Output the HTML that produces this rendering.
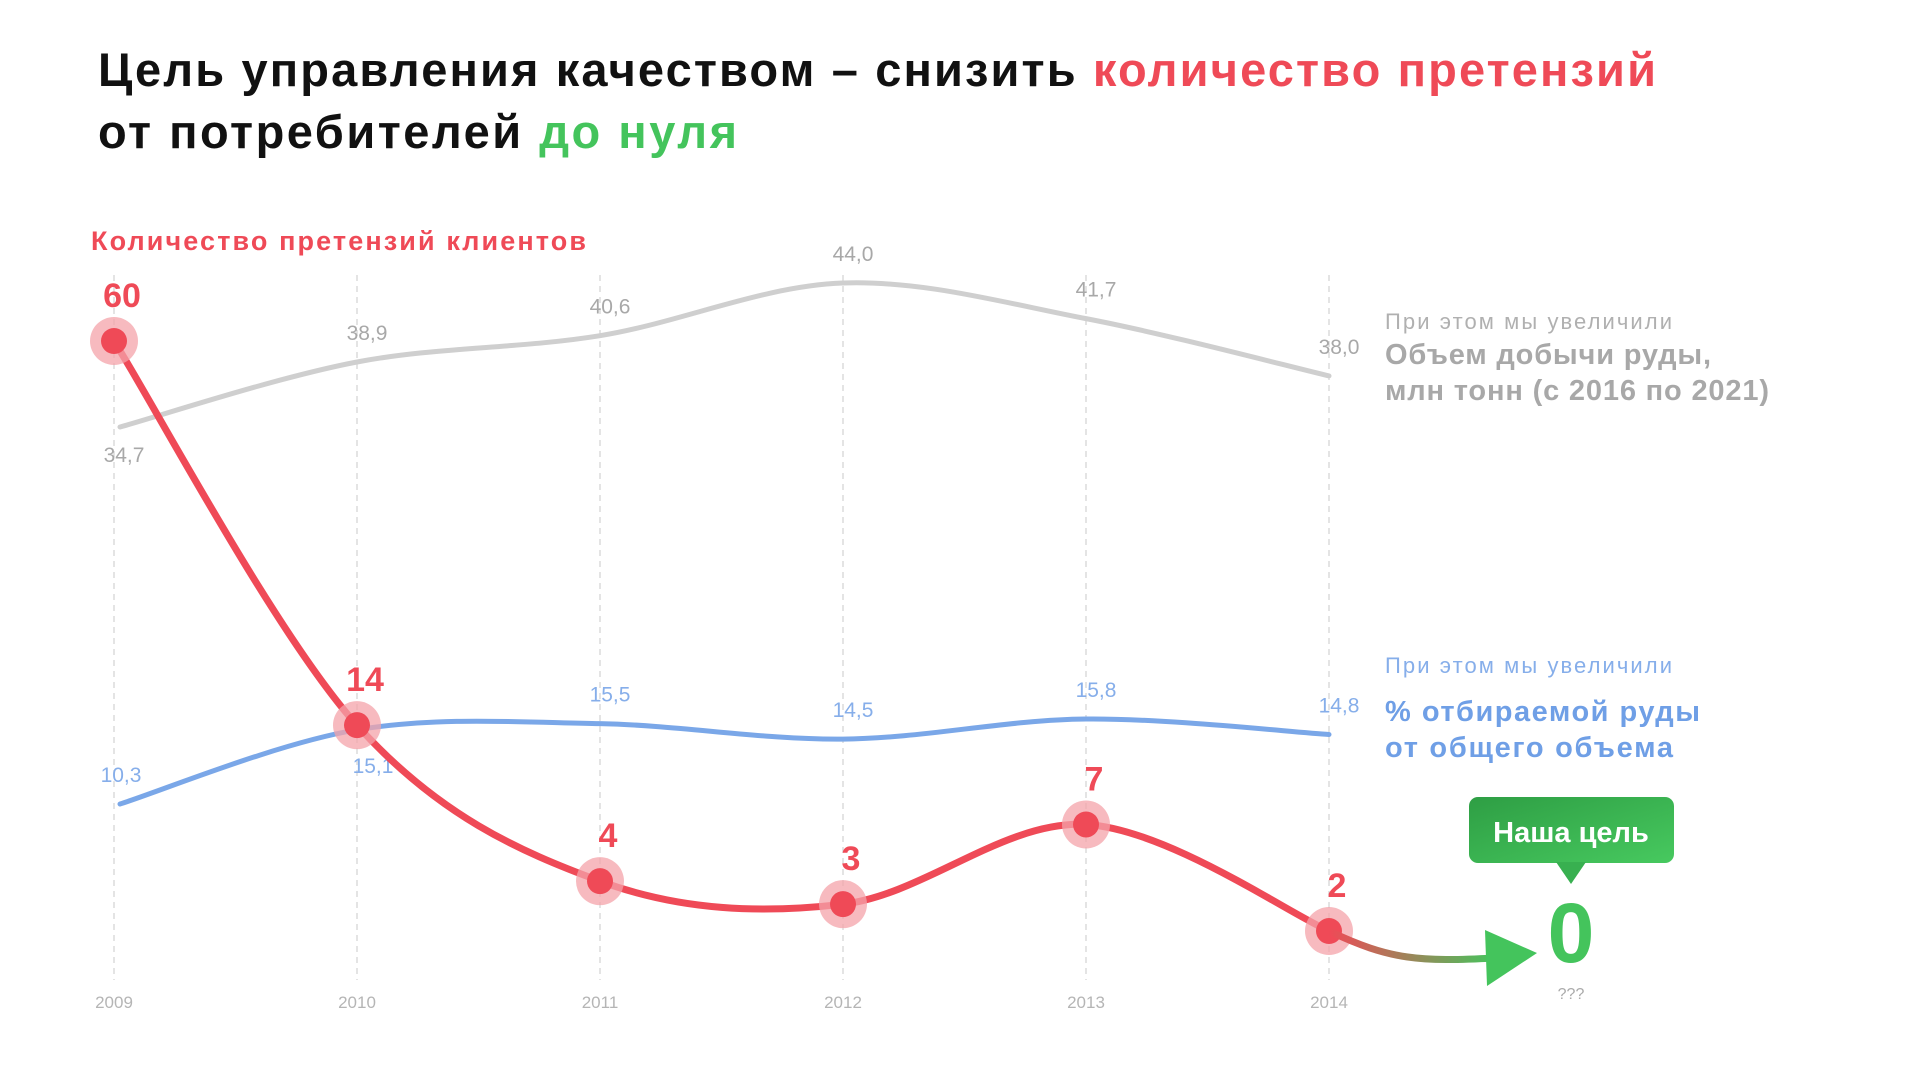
<!DOCTYPE html>
<html><head><meta charset="utf-8">
<style>
html,body{margin:0;padding:0;background:#fff;}
body{width:1920px;height:1082px;overflow:hidden;position:relative;font-family:"Liberation Sans","DejaVu Sans",sans-serif;}
svg text{font-family:"Liberation Sans","DejaVu Sans",sans-serif;}
</style></head>
<body>
<svg id="chart" width="1920" height="1082" viewBox="0 0 1920 1082" xmlns="http://www.w3.org/2000/svg">
<defs>
<linearGradient id="arrowGrad" x1="0" y1="0" x2="1" y2="0">
<stop offset="0" stop-color="#ef4a57"/><stop offset="1" stop-color="#44c45c"/>
</linearGradient>
<linearGradient id="boxGrad" x1="0" y1="0" x2="1" y2="1">
<stop offset="0" stop-color="#2e9e44"/><stop offset="1" stop-color="#47c95f"/>
</linearGradient>
</defs>
<text x="98" y="86" font-size="47" font-weight="bold" fill="#111" textLength="1558" lengthAdjust="spacing">Цель управления качеством – снизить <tspan fill="#ef4a57">количество претензий</tspan></text>
<text x="98" y="148" font-size="47" font-weight="bold" fill="#111" textLength="639" lengthAdjust="spacing">от потребителей <tspan fill="#44c45c">до нуля</tspan></text>
<text x="91" y="250" font-size="27" font-weight="bold" fill="#ef4a57" textLength="495" lengthAdjust="spacing">Количество претензий клиентов</text>

<text x="1385" y="329" font-size="22" fill="#b0b0b0" textLength="287" lengthAdjust="spacing">При этом мы увеличили</text>
<text x="1385" y="364" font-size="29" font-weight="bold" fill="#a8a8a8" textLength="326" lengthAdjust="spacing">Объем добычи руды,</text>
<text x="1385" y="400" font-size="29" font-weight="bold" fill="#a8a8a8" textLength="384" lengthAdjust="spacing">млн тонн (с 2016 по 2021)</text>
<text x="1385" y="673" font-size="22" fill="#86aeea" textLength="287" lengthAdjust="spacing">При этом мы увеличили</text>
<text x="1385" y="721" font-size="29" font-weight="bold" fill="#6f9fe6" textLength="315" lengthAdjust="spacing">% отбираемой руды</text>
<text x="1385" y="757" font-size="29" font-weight="bold" fill="#6f9fe6" textLength="288" lengthAdjust="spacing">от общего объема</text>

<g id="grid"></g>
<g id="gray"></g>
<g id="blue"></g>
<g id="red"></g>

<path d="M1329,931 C1390,960 1420,962 1495,958" stroke="url(#arrowGrad)" stroke-width="7" fill="none"/>
<polygon points="1485,930 1537,953 1487,986" fill="#44c45c"/>
<rect x="1469" y="797" width="205" height="66" rx="9" fill="url(#boxGrad)"/>
<polygon points="1556,862 1586,862 1571,884" fill="#38b050"/>
<text x="1571" y="842" font-size="29" font-weight="bold" fill="#fff" text-anchor="middle">Наша цель</text>
<text x="1571" y="962" font-size="84" font-weight="bold" fill="#44c45c" text-anchor="middle">0</text>
<text x="1571" y="999" font-size="16" fill="#aaa" text-anchor="middle">???</text>
</svg>
<script>
const years = ["2009","2010","2011","2012","2013","2014"];
const claims = [60,14,4,3,7,2];
const oreVolume = [34.7,38.9,40.6,44.0,41.7,38.0];
const oreShare = [10.3,15.1,15.5,14.5,15.8,14.8];
const oreVolumeLabels = ["34,7","38,9","40,6","44,0","41,7","38,0"];
const oreShareLabels = ["10,3","15,1","15,5","14,5","15,8","14,8"];

const NS="http://www.w3.org/2000/svg";
const xS = i => 114 + i*(1329-114)/5;
const P = 0.55;
const yRed = v => 931 - (Math.pow(v,P)-Math.pow(2,P))*(590/(Math.pow(60,P)-Math.pow(2,P)));
const yGray = v => 427 - (v-34.7)*15.48;
const yBlue = v => 804 - (v-10.3)*15.45;
function el(t,a,p){const e=document.createElementNS(NS,t);for(const k in a)e.setAttribute(k,a[k]);p.appendChild(e);return e;}
function smooth(pts){let d="M"+pts[0][0]+","+pts[0][1];for(let i=0;i<pts.length-1;i++){const p0=pts[i-1]||pts[i],p1=pts[i],p2=pts[i+1],p3=pts[i+2]||p2;const c1=[p1[0]+(p2[0]-p0[0])/6,p1[1]+(p2[1]-p0[1])/6],c2=[p2[0]-(p3[0]-p1[0])/6,p2[1]-(p3[1]-p1[1])/6];d+=` C${c1[0]},${c1[1]} ${c2[0]},${c2[1]} ${p2[0]},${p2[1]}`;}return d;}

const grid=document.getElementById('grid');
years.forEach((y,i)=>{
  const l=el('line',{x1:xS(i),x2:xS(i),y1:275,y2:980,stroke:'#dcdcdc','stroke-width':1.5,'stroke-dasharray':'6 5'},grid);
  
  
  const t=el('text',{x:xS(i),y:1008,'font-size':17,fill:'#b5b5b5','text-anchor':'middle'},grid);
  t.textContent=y;
  
  
});

const gG=document.getElementById('gray');
const gp=el('path',{d:smooth(oreVolume.map((v,i)=>[xS(i)+(i===0?6:0),yGray(v)])),stroke:'#cfcfcf','stroke-width':5,fill:'none','stroke-linecap':'round'},gG);


oreVolume.forEach((v,i)=>{
  const below=i===0;
  const t=el('text',{x:xS(i)+10,y:below?yGray(v)+35:yGray(v)-22,'font-size':21,fill:'#a8a8a8','text-anchor':'middle'},gG);
  t.textContent=oreVolumeLabels[i];
  
  
});

const gB=document.getElementById('blue');
const bp=el('path',{d:smooth(oreShare.map((v,i)=>[xS(i)+(i===0?6:0),yBlue(v)])),stroke:'#7aa7e8','stroke-width':5,fill:'none','stroke-linecap':'round'},gB);


oreShare.forEach((v,i)=>{
  const below=i===1;
  const dx=i===0?7:(i===1?16:10);
  const t=el('text',{x:xS(i)+dx,y:below?yBlue(v)+43:yBlue(v)-22,'font-size':21,fill:'#86aeea','text-anchor':'middle'},gB);
  t.textContent=oreShareLabels[i];
  
  
});

const gR=document.getElementById('red');
const rp=el('path',{d:smooth(claims.map((v,i)=>[xS(i),yRed(v)])),stroke:'#ef4a57','stroke-width':7,fill:'none','stroke-linecap':'round'},gR);


claims.forEach((v,i)=>{
  const h=el('circle',{cx:xS(i),cy:yRed(v),r:24,fill:'#f4a3a9',opacity:0.75},gR);
  
  
  const c=el('circle',{cx:xS(i),cy:yRed(v),r:13,fill:'#ef4a57'},gR);
  
  
  const t=el('text',{x:xS(i)+8,y:yRed(v)-34,'font-size':34,'font-weight':'bold',fill:'#ef4a57','text-anchor':'middle'},gR);
  t.textContent=String(v);
  
  
});
</script>
</body></html>
